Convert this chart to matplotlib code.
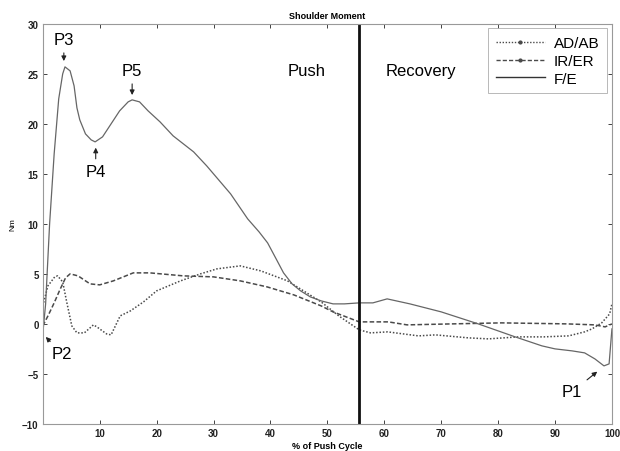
import numpy as np
import matplotlib
matplotlib.use('Agg')
import matplotlib.pyplot as plt
from matplotlib.lines import Line2D

plt.rcParams['font.family'] = ['Liberation Sans', 'DejaVu Sans']

# F/E (solid)
fe_x = [0, 0.5, 1.2, 2.0, 2.8, 3.5, 3.9, 4.8, 5.5, 6.0, 6.5, 7.5, 8.5, 9.2, 10.5, 12, 13.5, 15, 15.7,
        17, 18.5, 20.6, 22.9, 26.5, 28.8, 33, 36, 38, 39.5, 41, 42.3, 43.8, 45.3, 47, 48.9, 51, 53, 55.6,
        58, 60.5, 64.5, 70, 76.5, 83, 87.7, 90, 93, 95.2, 97, 98.6, 99.5, 100]
fe_y = [-1, 2, 10, 17, 22.5, 25, 25.7, 25.3, 23.8, 21.6, 20.4, 19.0, 18.4, 18.2, 18.7, 20, 21.3, 22.2, 22.4,
        22.2, 21.3, 20.2, 18.8, 17.2, 15.8, 13, 10.5, 9.2, 8.1, 6.5, 5.1, 4.0, 3.3, 2.7, 2.3, 2.0, 2.0, 2.1,
        2.1, 2.5, 2.0, 1.2, 0, -1.3, -2.2, -2.5, -2.7, -2.9, -3.5, -4.2, -4.0, -0.5]

# AD/AB (dotted)
ad_x = [0, 0.9, 2.1, 2.6, 3.5, 4.2, 5.1, 6.0, 7.3, 8.9, 9.5, 11.2, 12, 13.6, 15.4, 17.7, 20, 24.2, 27.7,
        30.6, 34.7, 38.3, 43, 48.9, 52, 55.6, 57.6, 60.6, 66, 69, 74.8, 78.3, 83.6, 88, 92.4, 95.2, 96.5,
        98.2, 99.6, 100]
ad_y = [1.8, 3.8, 4.7, 4.8, 4.2, 2.2, -0.2, -0.9, -0.9, -0.1, -0.3, -1.0, -1.1, 0.8, 1.3, 2.2, 3.3, 4.3, 5.0,
        5.5, 5.8, 5.3, 4.3, 2.2, 0.8, -0.6, -0.9, -0.8, -1.2, -1.1, -1.4, -1.5, -1.3, -1.3, -1.2, -0.8, -0.5,
        0.1, 1.0, 2.0]

# IR/ER (dashed)
ir_x = [0, 1, 2, 3, 4, 4.8, 6.2, 8.3, 10, 12.4, 15.9, 18.8, 24.7, 30, 34.7, 39.4, 44.1, 48.9, 51, 55.6,
        60.7, 64, 72, 80.6, 92, 97, 98.8, 100]
ir_y = [-0.2, 0.9, 2.1, 3.4, 4.6, 5.0, 4.8, 4.0, 3.9, 4.3, 5.1, 5.1, 4.8, 4.7, 4.3, 3.7, 2.9, 1.8, 1.2, 0.2,
        0.2, -0.1, 0, 0.1, 0, -0.1, -0.3, 0]

push_end = 55.6

fig = plt.figure(figsize=(6.2, 4.52), dpi=100)
ax = fig.add_axes([0.069, 0.06, 0.918, 0.885])

lc = '#4a4a4a'
ax.plot(ad_x, ad_y, color=lc, linestyle=(0, (1, 1.2)), linewidth=1.1)
ax.plot(ir_x, ir_y, color=lc, linestyle=(0, (3, 1.5)), linewidth=1.1)
ax.plot(fe_x, fe_y, color='#666666', linestyle='-', linewidth=0.9)
ax.axvline(push_end, color='#111111', linewidth=2)

ax.set_xlim(0, 100)
ax.set_ylim(-10, 30)
ax.set_xticks(np.arange(0, 101, 10))
ax.set_xticklabels([''] + [str(v) for v in range(10, 101, 10)])
ax.set_yticks(np.arange(-10, 31, 5))
ax.tick_params(direction='in', length=3, width=0.6, top=True, right=True,
               labelsize=7, colors='#222222', pad=3)
for lab in ax.get_xticklabels() + ax.get_yticklabels():
    lab.set_fontweight('bold')
for s in ax.spines.values():
    s.set_color('#999999')
    s.set_linewidth(0.8)

ax.set_title('Shoulder Moment', fontsize=6.5, fontweight='bold', pad=4)
ax.set_xlabel('% of Push Cycle', fontsize=6.5, fontweight='bold', labelpad=2)
ax.set_ylabel('Nm', fontsize=6, labelpad=4)

ax.text(46.4, 25.3, 'Push', fontsize=12, ha='center', va='center')
ax.text(66.4, 25.3, 'Recovery', fontsize=12, ha='center', va='center')

arr = dict(arrowstyle='-|>', color='#222222', lw=0.8, mutation_scale=7)
ax.annotate('P3', xy=(3.7, 26.0), xytext=(3.7, 28.4), fontsize=12, ha='center', va='center', arrowprops=arr)
ax.annotate('P5', xy=(15.7, 22.6), xytext=(15.7, 25.3), fontsize=12, ha='center', va='center', arrowprops=arr)
ax.annotate('P4', xy=(9.3, 17.9), xytext=(9.3, 15.2), fontsize=12, ha='center', va='center', arrowprops=arr)
ax.annotate('P2', xy=(0.2, -1.1), xytext=(3.3, -3.0), fontsize=12, ha='center', va='center', arrowprops=arr)
ax.annotate('P1', xy=(97.8, -4.6), xytext=(93.0, -6.8), fontsize=12, ha='center', va='center', arrowprops=arr)

handles = [
    Line2D([], [], color=lc, linestyle=(0, (1, 1.2)), linewidth=1.0, marker='.', markersize=4),
    Line2D([], [], color=lc, linestyle=(0, (3, 1.5)), linewidth=1.0, marker='.', markersize=4),
    Line2D([], [], color='#333333', linestyle='-', linewidth=1.0),
]
leg = ax.legend(handles, ['AD/AB', 'IR/ER', 'F/E'], loc='upper right', fontsize=11, numpoints=1,
                frameon=True, fancybox=False, handlelength=3.2, borderaxespad=0.3,
                labelspacing=0.25, handletextpad=0.6, borderpad=0.5)
leg.get_frame().set_edgecolor('#999999')
leg.get_frame().set_linewidth(0.6)

fig.savefig('out.png', dpi=100)
